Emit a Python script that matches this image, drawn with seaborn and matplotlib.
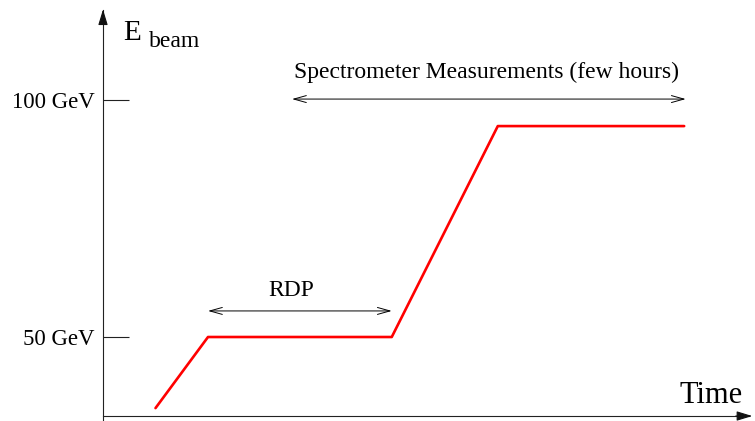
import matplotlib
matplotlib.use("Agg")
import matplotlib.pyplot as plt
import seaborn as sns
import pandas as pd

# Beam energy profile (time in arbitrary units, energy in GeV)
time = [1, 2, 5.5, 7.52, 11.07]
energy = [35, 50, 50, 94.5, 94.5]

# Axis ticks
tick_values = [50, 100]
tick_labels = ["50 GeV", "100 GeV"]

# Annotated phases (start, end, arrow height, label)
rdp_span = [2, 5.5]
rdp_level = 55.5
rdp_label = "RDP"
spectro_span = [3.6, 11.1]
spectro_level = 100.2
spectro_label = "Spectrometer Measurements (few hours)"

profile = pd.DataFrame({"Time": time, "Energy": energy})

sns.set_style("white")
plt.rcParams["font.family"] = ["Liberation Serif", "DejaVu Serif"]
plt.rcParams["text.color"] = "black"

fig = plt.figure(figsize=(7.55, 4.21), dpi=100)
ax = fig.add_axes([0, 0, 1, 1])
ax.set_xlim(-1.962, 12.419)
ax.set_ylim(32.28, 121.1)

# Plot the energy ramp
sns.lineplot(data=profile, x="Time", y="Energy", color="red", linewidth=1.9,
             sort=False, ax=ax)

# Axes as arrows through the origin
x_axis_level = 33.33
ax.spines["top"].set_visible(False)
ax.spines["right"].set_visible(False)
ax.spines["left"].set_position(("data", 0))
ax.spines["bottom"].set_position(("data", x_axis_level))
ax.spines["left"].set_bounds(32.28, 119.0)
ax.spines["bottom"].set_bounds(0, 12.3)
for side in ["left", "bottom"]:
    ax.spines[side].set_color("#222222")
    ax.spines[side].set_linewidth(0.8)
ax.annotate("", xy=(0, 119.7), xytext=(0, 117),
            arrowprops=dict(arrowstyle="-|>,head_length=9.5,head_width=2.9",
                            mutation_scale=1, color="#111111", lw=0.8))
ax.annotate("", xy=(12.42, x_axis_level), xytext=(12.0, x_axis_level),
            arrowprops=dict(arrowstyle="-|>,head_length=9.5,head_width=2.9",
                            mutation_scale=1, color="#111111", lw=0.8))

ax.set_xticks([])
ax.set_yticks(tick_values, tick_labels)
ax.tick_params(axis="y", left=True, direction="in", length=18.7, width=0.8,
               pad=6, labelsize=16.5, color="#222222", labelcolor="black")
ax.set_xlabel("")
ax.set_ylabel("")

# Axis titles
ax.text(12.19, 36.1, "Time", ha="right", va="baseline", fontsize=22)
ax.text(0.38, 112.7, "E", ha="left", va="baseline", fontsize=21)
ax.text(0.87, 111.2, "beam", ha="left", va="baseline", fontsize=17)

# Phase arrows
for span, level in [(rdp_span, rdp_level), (spectro_span, spectro_level)]:
    ax.annotate("", xy=(span[1], level), xytext=(span[0], level),
                arrowprops=dict(arrowstyle="<->,head_length=9,head_width=2.5",
                                mutation_scale=1, color="black", lw=0.7,
                                shrinkA=0, shrinkB=0))
ax.text(3.58, 59.8, rdp_label, ha="center", va="center", fontsize=17)
ax.text(7.31, 105.9, spectro_label, ha="center", va="center", fontsize=17)

plt.savefig("out.png", dpi=100)
